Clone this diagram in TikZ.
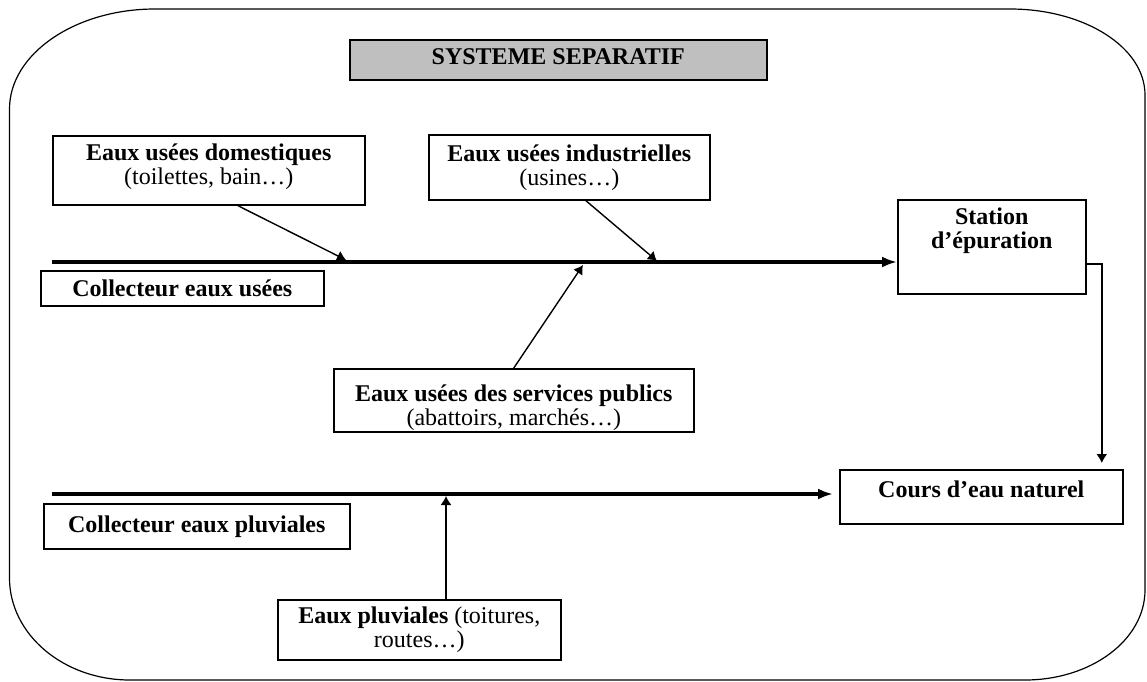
\documentclass[tikz,border=0pt]{standalone}
\usepackage{fontspec}
\setmainfont{Liberation Serif}
\usetikzlibrary{arrows.meta}

\begin{document}
\begin{tikzpicture}[x=0.5pt, y=-0.5pt,
  font=\fontsize{12}{12}\selectfont,
  box/.style={draw, line width=0.8pt, inner sep=0pt, anchor=north west, align=center},
  collector/.style={line width=2pt, -{Latex[length=7.5pt,width=5.5pt]}},
  feed/.style={line width=0.7pt, -{Latex[length=4.5pt,width=5.5pt]}}]
  \useasboundingbox (0,0) rectangle (1147,681);
  \draw [line width=0.6pt] (9.5,109) .. controls (9.5,54) and (75,9) .. (155,9) -- (1010,9)
    .. controls (1084,9) and (1145,47) .. (1145,95) -- (1145,590)
    .. controls (1145,640) and (1091,680) .. (1025,680) -- (130,680)
    .. controls (63,680) and (9.5,634) .. (9.5,578) -- cycle;
  \node [box, fill=gray!50, minimum width=208.5pt, minimum height=20pt, text depth=3pt] (titre) at (349,39) {\textbf{SYSTEME SEPARATIF}};
  \node [box, minimum width=156pt, minimum height=34.5pt, text depth=6.5pt] (dom) at (52,135) {\textbf{Eaux usées domestiques}\\(toilettes, bain…)};
  \node [box, minimum width=140.5pt, minimum height=32.5pt] (ind) at (428,134) {\textbf{Eaux usées industrielles}\\(usines…)};
  \node [box, minimum width=94pt, minimum height=47pt, text depth=19pt] (station) at (897,199) {\textbf{Station}\\\textbf{d’épuration}};
  \node [box, minimum width=141.5pt, minimum height=17.5pt] (cu) at (40,270) {\textbf{Collecteur eaux usées}};
  \node [box, minimum width=180pt, minimum height=31.5pt, text height=28pt] (serv) at (333,368) {\textbf{Eaux usées des services publics}\\(abattoirs, marchés…)};
  \node [box, minimum width=141.5pt, minimum height=27pt, text depth=8pt] (cours) at (839,469) {\textbf{Cours d’eau naturel}};
  \node [box, minimum width=153pt, minimum height=22.5pt] (cp) at (43,503) {\textbf{Collecteur eaux pluviales}};
  \node [box, minimum width=141.5pt, minimum height=30pt] (pluv) at (277,599) {\textbf{Eaux pluviales} (toitures,\\routes…)};
  \coordinate (lu) at (52,262);
  \coordinate (lp) at (52,494);
  \coordinate (jdom) at (346,260);
  \coordinate (jind) at (657,261);
  \coordinate (jserv) at (583,265);
  \coordinate (jpluv) at (446,496);
  \draw [collector] (lu) -- (lu -| station.west);
  \draw [collector, shorten >=3pt] (lp) -- (lp -| cours.west);
  \draw [feed] ([xshift=14.5pt]dom.south) -- (jdom);
  \draw [feed] ([xshift=8.25pt]ind.south) -- (jind);
  \draw [feed] (serv.north) -- (jserv);
  \draw [feed] (pluv.north -| jpluv) -- (jpluv);
  \draw [feed, shorten >=3pt] ([yshift=-8.5pt]station.east) -| ([xshift=60.25pt]cours.north);
\end{tikzpicture}
\end{document}
